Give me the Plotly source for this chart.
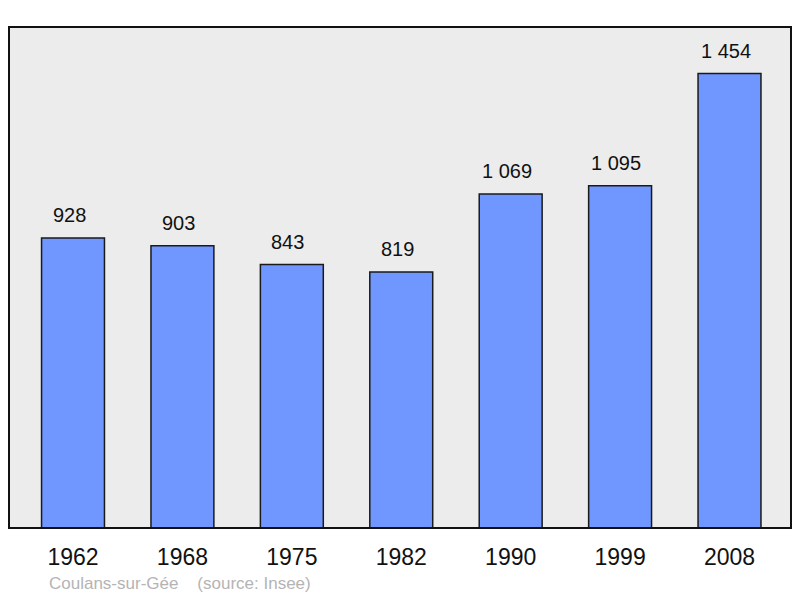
import plotly.graph_objects as go

years = ["1962", "1968", "1975", "1982", "1990", "1999", "2008"]
population = [928, 903, 843, 819, 1069, 1095, 1454]
footer_text = "Coulans-sur-Gée    (source: Insee)"


def fmt(v):
    return f"{v:,}".replace(",", "\u00a0")


fig = go.Figure()
fig.add_trace(
    go.Bar(
        x=list(range(len(years))),
        y=population,
        width=0.575,
        marker=dict(color="#7096ff", line=dict(color="#1a1a1a", width=1.5)),
        hoverinfo="skip",
    )
)

# valeurs au-dessus des barres
for i, v in enumerate(population):
    fig.add_annotation(
        x=i, y=v, text=fmt(v), showarrow=False, yshift=23, xshift=-4,
        font=dict(size=20, color="#111111"),
    )

fig.add_shape(
    type="rect", xref="paper", yref="paper", x0=0, y0=0, x1=1, y1=1,
    line=dict(color="#111111", width=2),
)

fig.add_annotation(
    xref="paper", yref="paper", x=0.049, y=-0.11, xanchor="left", yanchor="middle",
    text=footer_text.replace(" ", "\u00a0"), showarrow=False,
    font=dict(size=17, color="#b4b4b4"),
)

# la page a une marge de 8px, on compense
fig.update_layout(
    width=792,
    height=590,
    margin=dict(l=1, r=9, t=19, b=70),
    paper_bgcolor="white",
    plot_bgcolor="#ececec",
    font=dict(family="Liberation Sans, Arial, sans-serif"),
    showlegend=False,
    xaxis=dict(
        range=[-0.585, 6.562],
        tickmode="array",
        tickvals=list(range(len(years))),
        ticktext=years,
        showgrid=False,
        zeroline=False,
        ticks="outside",
        ticklen=8,
        tickcolor="rgba(0,0,0,0)",
        tickfont=dict(size=23, color="#111111"),
    ),
    yaxis=dict(
        range=[0, 1603],
        showgrid=False,
        zeroline=False,
        showticklabels=False,
    ),
)

fig.write_html("out.html")
